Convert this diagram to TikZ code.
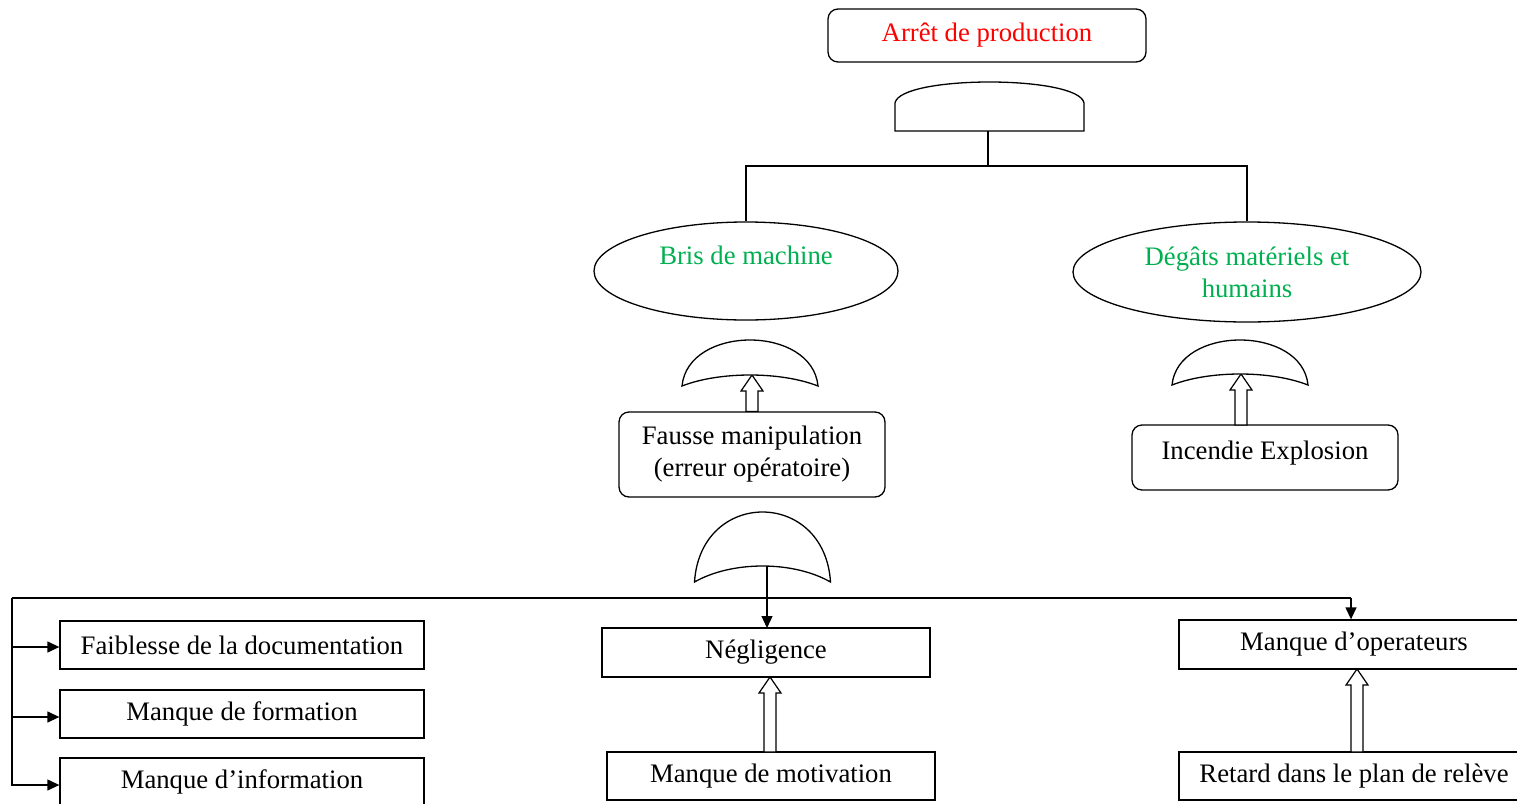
\documentclass[tikz,border=0pt]{standalone}
\usepackage{fontspec}
\setmainfont{Liberation Serif}
\usetikzlibrary{arrows.meta,calc,shapes.geometric}
\definecolor{custrouge}{RGB}{255,0,0}
\definecolor{custvert}{RGB}{0,176,80}

% porte OU : nom, centre x, haut y, demi-largeur, hauteur, creux
\newcommand\orgate[6]{%
  \draw[gate] (#2-#4,#3+#5) .. controls (#2-#4+6,#3-#5/3) and (#2+#4-6,#3-#5/3) .. (#2+#4,#3+#5)
    .. controls (#2+0.45*#4,#3+#5-4*#6/3) and (#2-0.45*#4,#3+#5-4*#6/3) .. cycle;
  \coordinate (#1) at (#2,#3+#5-#6);}
% fleche creuse verticale
\newcommand\hollowarrow[2]{%
  \draw[hollow] let \p1=(#1), \p2=(#2) in
    (\x1-6pt,\y1) -- (\x1-6pt,\y2-16pt) -- (\x1-11pt,\y2-16pt) -- (\x1,\y2)
    -- (\x1+11pt,\y2-16pt) -- (\x1+6pt,\y2-16pt) -- (\x1+6pt,\y1) -- cycle;}

\begin{document}
\begin{tikzpicture}[x=1pt,y=-1pt,line width=1.3pt,
  base/.style={draw, inner sep=0pt, align=center, font=\fontsize{26.7}{32}\selectfont},
  boite/.style={base, rectangle},
  rboite/.style={base, rounded corners=10pt},
  evt/.style={base, ellipse, text=custvert},
  gate/.style={draw, fill=white},
  hollow/.style={draw, fill=white, line width=1.2pt},
  fleche/.style={-{Triangle[length=12pt,width=11pt]}}]
	\useasboundingbox (0,0) rectangle (1517,803);
	% evenement sommet
	\node[rboite, text=custrouge, minimum width=318, minimum height=53] (arret) at (987,35.5) {Arrêt de production};
	\draw[gate] (895,131) -- (895,103) .. controls (900,75) and (1079,75) .. (1084,103) -- (1084,131) -- cycle;
	\coordinate (g0) at (988,131);
	\coordinate (jun) at (988,166);
	\node[evt, minimum width=304, minimum height=98, text depth=32pt] (bris) at (746,271) {Bris de machine};
	\node[evt, minimum width=348, minimum height=100] (degats) at (1247,272) {Dégâts matériels et\\humains};
	\draw (g0) -- (jun) -| (bris.north);
	\draw (jun) -| (degats.north);
	% causes intermediaires
	\node[rboite, minimum width=266, minimum height=85] (fausse) at (752,454.5) {Fausse manipulation\\(erreur opératoire)};
	\node[rboite, minimum width=266, minimum height=65, text depth=14pt] (incendie) at (1265,457.5) {Incendie Explosion};
	\hollowarrow{fausse.north}{fausse.north |- 0,375}
	\hollowarrow{1241,425}{1241,374}
	\orgate{g1}{750}{340}{68}{46}{11}
	\orgate{g2}{1240}{340}{68}{45}{11}
	\orgate{g3}{762.5}{512}{68}{70}{16}
	% causes de base
	\node[boite, minimum width=364, minimum height=48] (faib) at (242,645) {Faiblesse de la documentation};
	\node[boite, minimum width=364, minimum height=48] (form) at (242,714) {Manque de formation};
	\node[boite, minimum width=364, minimum height=48] (info) at (242,782) {Manque d’information};
	\node[boite, minimum width=328, minimum height=49] (neg) at (766,652.5) {Négligence};
	\node[boite, minimum width=328, minimum height=48] (motiv) at (771,776) {Manque de motivation};
	\node[boite, minimum width=350, minimum height=49] (manop) at (1354,644.5) {Manque d’operateurs};
	\node[boite, minimum width=350, minimum height=48] (retard) at (1354,776) {Retard dans le plan de relève};
	\coordinate (bl) at (12,598);
	\coordinate (br) at (1351,598);
	\draw (767,566) -- (767,598);
	\draw (bl) -- (br);
	\draw (bl) -- (12,786);
	\draw[fleche] (bl |- 0,647) -- (faib.west |- 0,647);
	\draw[fleche] (bl |- 0,717) -- (form.west |- 0,717);
	\draw[fleche] (bl |- 0,785) -- (info.west |- 0,785);
	\draw[fleche] (767,598) -- (767,628);
	\draw[fleche] (br) -- (br |- manop.north);
	\hollowarrow{770,752}{770,677}
	\hollowarrow{1357,752}{1357,669}
\end{tikzpicture}
\end{document}
